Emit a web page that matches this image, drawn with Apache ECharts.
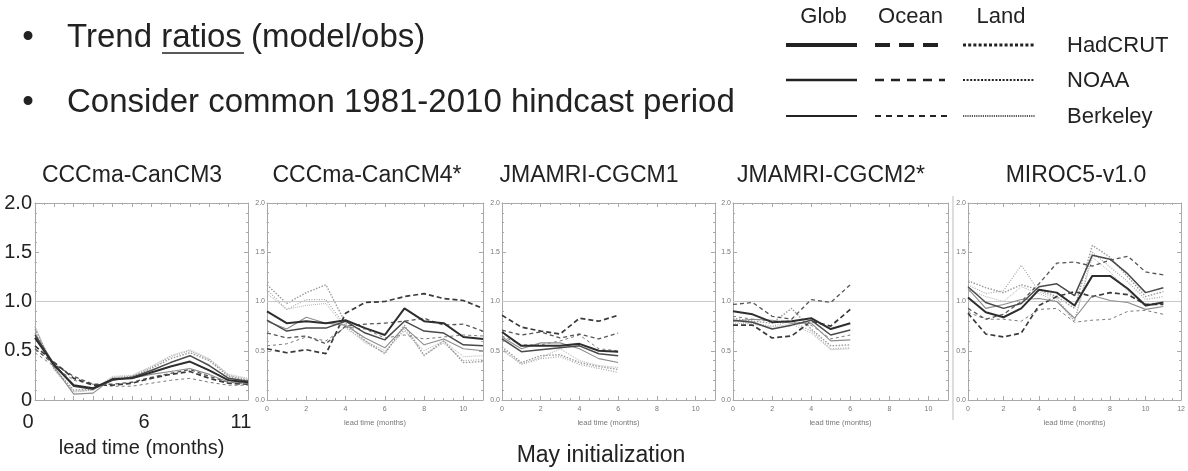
<!DOCTYPE html>
<html>
<head>
<meta charset="utf-8">
<script src="https://cdn.jsdelivr.net/npm/echarts@6/dist/echarts.min.js"></script>
<style>
  html, body { margin: 0; padding: 0; background: #fff; }
  #chart { width: 1188px; height: 471px; }
</style>
</head>
<body>
<div id="chart"></div>
<script>
// lead times (months) shared by all panels
const leadMonths = [0, 1, 2, 3, 4, 5, 6, 7, 8, 9, 10, 11];
const panelTitles = ['CCCma-CanCM3', 'CCCma-CanCM4*', 'JMAMRI-CGCM1', 'JMAMRI-CGCM2*', 'MIROC5-v1.0'];
const obsSets = ['HadCRUT', 'NOAA', 'Berkeley'];
const regions = ['Glob', 'Ocean', 'Land'];
const ratioTicks = [0, 0.5, 1.0, 1.5, 2.0];
const firstPanelXLabels = [0, 6, 11];

// trend ratios, rows: Glob (HadCRUT, NOAA, Berkeley), Ocean (...), Land (...)
const canCM3 = [
    [0.63, 0.35, 0.15, 0.12, 0.21, 0.22, 0.28, 0.34, 0.39, 0.30, 0.20, 0.18],
    [0.66, 0.36, 0.14, 0.11, 0.20, 0.23, 0.30, 0.38, 0.45, 0.35, 0.22, 0.19],
    [0.68, 0.33, 0.06, 0.07, 0.22, 0.22, 0.26, 0.29, 0.32, 0.26, 0.18, 0.17],
    [0.55, 0.38, 0.22, 0.15, 0.15, 0.17, 0.22, 0.26, 0.29, 0.22, 0.17, 0.16],
    [0.52, 0.36, 0.24, 0.16, 0.16, 0.18, 0.23, 0.27, 0.31, 0.24, 0.18, 0.17],
    [0.48, 0.34, 0.20, 0.16, 0.14, 0.14, 0.17, 0.20, 0.22, 0.18, 0.15, 0.15],
    [0.72, 0.32, 0.10, 0.11, 0.22, 0.24, 0.32, 0.42, 0.48, 0.40, 0.24, 0.20],
    [0.74, 0.31, 0.09, 0.10, 0.23, 0.24, 0.33, 0.44, 0.50, 0.41, 0.25, 0.21],
    [0.75, 0.30, 0.08, 0.10, 0.24, 0.25, 0.34, 0.45, 0.51, 0.42, 0.26, 0.22]
];
const canCM4 = [
    [0.90, 0.78, 0.80, 0.78, 0.81, 0.73, 0.66, 0.93, 0.80, 0.78, 0.64, 0.62],
    [0.81, 0.70, 0.73, 0.73, 0.80, 0.68, 0.61, 0.80, 0.70, 0.68, 0.56, 0.55],
    [0.80, 0.72, 0.84, 0.78, 0.76, 0.63, 0.53, 0.74, 0.56, 0.62, 0.52, 0.50],
    [0.52, 0.48, 0.51, 0.47, 0.88, 0.99, 1.00, 1.05, 1.08, 1.03, 1.01, 0.93],
    [0.68, 0.63, 0.65, 0.57, 0.75, 0.77, 0.78, 0.80, 0.83, 0.76, 0.77, 0.70],
    [0.55, 0.57, 0.64, 0.60, 0.74, 0.72, 0.63, 0.66, 0.62, 0.64, 0.66, 0.65],
    [1.17, 0.98, 1.09, 1.17, 0.78, 0.60, 0.47, 0.76, 0.45, 0.60, 0.38, 0.39],
    [1.12, 0.92, 1.02, 1.02, 0.75, 0.58, 0.48, 0.72, 0.46, 0.58, 0.40, 0.41],
    [1.08, 0.92, 0.96, 0.98, 0.73, 0.60, 0.50, 0.70, 0.50, 0.60, 0.44, 0.45]
];
const cgcm1 = [
    [0.69, 0.55, 0.55, 0.55, 0.57, 0.50, 0.49],
    [0.62, 0.49, 0.51, 0.53, 0.55, 0.47, 0.45],
    [0.64, 0.52, 0.58, 0.58, 0.52, 0.42, 0.38],
    [0.86, 0.74, 0.70, 0.67, 0.83, 0.80, 0.86],
    [0.71, 0.66, 0.69, 0.63, 0.67, 0.62, 0.68],
    [0.65, 0.56, 0.56, 0.60, 0.66, 0.52, 0.50],
    [0.54, 0.38, 0.45, 0.46, 0.38, 0.34, 0.31],
    [0.52, 0.36, 0.42, 0.44, 0.36, 0.32, 0.28],
    [0.50, 0.37, 0.43, 0.52, 0.40, 0.35, 0.33]
];
const cgcm2 = [
    [0.90, 0.87, 0.79, 0.80, 0.83, 0.72, 0.78],
    [0.81, 0.79, 0.72, 0.76, 0.81, 0.66, 0.71],
    [0.80, 0.82, 0.81, 0.78, 0.78, 0.60, 0.61],
    [0.76, 0.76, 0.63, 0.65, 0.80, 0.75, 0.92],
    [0.97, 0.99, 0.85, 0.82, 1.02, 0.99, 1.17],
    [0.85, 0.82, 0.80, 0.80, 0.76, 0.62, 0.66],
    [0.83, 0.80, 0.78, 0.93, 0.72, 0.55, 0.56],
    [0.80, 0.78, 0.75, 0.80, 0.70, 0.52, 0.53],
    [0.78, 0.77, 0.74, 0.77, 0.68, 0.51, 0.52]
];
const miroc5 = [
    [1.04, 0.89, 0.84, 0.93, 1.12, 1.09, 0.96, 1.26, 1.26, 1.13, 0.96, 0.99],
    [1.15, 0.99, 0.93, 0.98, 1.15, 1.18, 1.06, 1.47, 1.43, 1.28, 1.09, 1.14],
    [1.13, 0.93, 0.97, 1.02, 1.03, 1.00, 0.83, 1.06, 1.01, 0.99, 0.92, 0.95],
    [0.88, 0.67, 0.64, 0.68, 0.96, 1.05, 1.10, 1.05, 1.09, 1.07, 0.97, 0.97],
    [0.93, 0.82, 0.87, 1.00, 1.18, 1.39, 1.40, 1.36, 1.42, 1.46, 1.30, 1.27],
    [0.89, 0.82, 0.82, 0.80, 0.92, 0.93, 0.79, 0.81, 0.82, 0.90, 0.91, 0.87],
    [1.21, 1.14, 1.09, 1.17, 1.12, 1.05, 0.93, 1.57, 1.45, 1.25, 1.05, 1.10],
    [1.17, 1.08, 1.11, 1.37, 1.10, 1.03, 0.80, 1.50, 1.35, 1.20, 1.02, 1.05],
    [1.12, 1.05, 1.00, 1.15, 1.08, 1.00, 0.80, 1.45, 1.30, 1.10, 0.95, 1.00]
];
const panelData = [canCM3, canCM4, cgcm1, cgcm2, miroc5];

// line looks, same order as the rows
const lineLooks = [
    { color: '#2e2e2e', width: 2.0, type: 'solid' },
    { color: '#4a4a4a', width: 1.5, type: 'solid' },
    { color: '#8c8c8c', width: 1.1, type: 'solid' },
    { color: '#3a3a3a', width: 1.7, type: [5, 3] },
    { color: '#555555', width: 1.3, type: [4, 3] },
    { color: '#7a7a7a', width: 1.0, type: [3, 3] },
    { color: '#9a9a9a', width: 1.4, type: [1.5, 1.5] },
    { color: '#a8a8a8', width: 1.2, type: [1, 1.5] },
    { color: '#b4b4b4', width: 1.0, type: [1, 1] }
];

// plot boxes in the picture
const boxes = [
    { left: 35, width: 213, xMax: 11 },
    { left: 267, width: 216, xMax: 11 },
    { left: 502, width: 213, xMax: 11 },
    { left: 733, width: 215, xMax: 11 },
    { left: 968, width: 217, xMax: 12 }
];
const boxTop = 203, boxHeight = 197;
const titleCenters = [132, 367, 589, 831, 1076];

let grids = [], xAxes = [], yAxes = [], series = [];
const frame = '#a9a9a9';

boxes.forEach((b, p) => {
    grids.push({ left: b.left, top: boxTop, width: b.width, height: boxHeight });
    const big = p === 0;

    // bottom axis with labels
    xAxes.push({
        type: 'value', gridIndex: p, position: 'bottom', min: 0, max: b.xMax,
        interval: big ? 1 : 2,
        axisLine: { onZero: false, lineStyle: { color: frame } },
        axisTick: { inside: true, length: 4, lineStyle: { color: frame } },
        minorTick: { show: true, splitNumber: big ? 2 : 4, length: 2, lineStyle: { color: frame } },
        splitLine: { show: false },
        axisLabel: big ? {
            fontSize: 20, color: '#222', fontFamily: 'Liberation Sans', margin: 12,
            padding: [0, 14, 0, 0], showMaxLabel: true,
            formatter: v => firstPanelXLabels.indexOf(v) >= 0 ? String(v) : ''
        } : {
            fontSize: 7, color: '#777', fontFamily: 'Liberation Sans', margin: 6,
            showMaxLabel: b.xMax === 12 ? true : false
        },
        name: 'lead time (months)', nameLocation: 'middle',
        nameGap: big ? 38 : 19,
        nameTextStyle: big ? { fontSize: 20, color: '#222', fontFamily: 'Liberation Sans' }
                           : { fontSize: 7.5, color: '#777', fontFamily: 'Liberation Sans' }
    });
    // top axis, ticks only
    xAxes.push({
        type: 'value', gridIndex: p, position: 'top', min: 0, max: b.xMax,
        interval: big ? 1 : 2,
        axisLine: { onZero: false, lineStyle: { color: frame } },
        axisTick: { inside: true, length: 4, lineStyle: { color: frame } },
        minorTick: { show: true, splitNumber: big ? 2 : 4, length: 2, lineStyle: { color: frame } },
        splitLine: { show: false }, axisLabel: { show: false }
    });
    // left axis with labels
    yAxes.push({
        type: 'value', gridIndex: p, position: 'left', min: 0, max: 2, interval: 0.5,
        axisLine: { show: true, onZero: false, lineStyle: { color: frame } },
        axisTick: { show: true, inside: true, length: 4, lineStyle: { color: frame } },
        minorTick: { show: true, splitNumber: 5, length: 2, lineStyle: { color: frame } },
        splitLine: { show: false },
        axisLabel: big ? {
            fontSize: 20, color: '#222', fontFamily: 'Liberation Sans', margin: 3,
            formatter: v => v === 0 ? '0' : v.toFixed(1)
        } : {
            fontSize: 7, color: '#777', fontFamily: 'Liberation Sans', margin: 2,
            formatter: v => v.toFixed(1)
        }
    });
    // right axis, ticks only
    yAxes.push({
        type: 'value', gridIndex: p, position: 'right', min: 0, max: 2, interval: 0.5,
        axisLine: { show: true, onZero: false, lineStyle: { color: frame } },
        axisTick: { show: true, inside: true, length: 4, lineStyle: { color: frame } },
        minorTick: { show: true, splitNumber: 5, length: 2, lineStyle: { color: frame } },
        splitLine: { show: false }, axisLabel: { show: false }
    });

    panelData[p].forEach((row, r) => {
        const look = lineLooks[r];
        let s = {
            name: obsSets[r % 3] + ' ' + regions[Math.floor(r / 3)],
            type: 'line',
            xAxisIndex: p * 2, yAxisIndex: p * 2,
            data: row.map((v, i) => [leadMonths[i], v]),
            symbol: 'none', silent: true, animation: false,
            lineStyle: { color: look.color, width: look.width, type: look.type },
            z: 10 - r
        };
        if (r === 0) {
            s.markLine = {
                silent: true, symbol: 'none', animation: false,
                label: { show: false },
                lineStyle: { color: '#c8c8c8', width: 1, type: 'solid' },
                data: [{ yAxis: 1.0 }]
            };
        }
        series.push(s);
    });
});

// legend block (top right) drawn by hand
const legendCols = [{ x1: 786, x2: 857 }, { x1: 875, x2: 942 }, { x1: 963, x2: 1035 }];
const legendRowY = [45, 80, 116];
const legendWidths = [4, 2.6, 1.8];
const legendDash = [
    ['solid', [15, 9], [3, 2.2]],
    ['solid', [9, 7], [2, 1.6]],
    ['solid', [6, 5], [1.2, 1]]
];
let graphics = [];
const bigFont = '33px "Liberation Sans"';

graphics.push(
    { type: 'text', x: 28, y: 38, style: { text: '•', font: bigFont, fill: '#222', textAlign: 'center', textVerticalAlign: 'middle' } },
    { type: 'text', x: 67, y: 38, style: { text: 'Trend ratios (model/obs)', font: bigFont, fill: '#222', textVerticalAlign: 'middle' } },
    { type: 'line', shape: { x1: 162, y1: 53, x2: 244, y2: 53 }, style: { stroke: '#222', lineWidth: 1.6 } },
    { type: 'text', x: 28, y: 103, style: { text: '•', font: bigFont, fill: '#222', textAlign: 'center', textVerticalAlign: 'middle' } },
    { type: 'text', x: 67, y: 103, style: { text: 'Consider common 1981-2010 hindcast period', font: bigFont, fill: '#222', textVerticalAlign: 'middle' } }
);

regions.forEach((reg, c) => {
    graphics.push({ type: 'text', x: (legendCols[c].x1 + legendCols[c].x2) / 2 + 2, y: 17,
        style: { text: reg, font: '22px "Liberation Sans"', fill: '#222', textAlign: 'center', textVerticalAlign: 'middle' } });
});
obsSets.forEach((obs, r) => {
    legendCols.forEach((col, c) => {
        graphics.push({ type: 'line',
            shape: { x1: col.x1, y1: legendRowY[r], x2: col.x2 + (c === 1 ? r * 3 : 0), y2: legendRowY[r] },
            style: { stroke: '#222', lineWidth: c === 2 ? legendWidths[r] * 0.75 : legendWidths[r], lineDash: legendDash[r][c] } });
    });
    graphics.push({ type: 'text', x: 1067, y: legendRowY[r] + 1,
        style: { text: obs, font: '22px "Liberation Sans"', fill: '#222', textVerticalAlign: 'middle' } });
});

panelTitles.forEach((t, p) => {
    graphics.push({ type: 'text', x: titleCenters[p], y: 176,
        style: { text: t, font: '23px "Liberation Sans"', fill: '#222', textAlign: 'center', textVerticalAlign: 'middle' } });
});

graphics.push(
    { type: 'line', shape: { x1: 953, y1: 196, x2: 953, y2: 420 }, style: { stroke: '#bbbbbb', lineWidth: 1 } },
    { type: 'text', x: 601, y: 456, style: { text: 'May initialization', font: '23px "Liberation Sans"', fill: '#222', textAlign: 'center', textVerticalAlign: 'middle' } }
);

const chart = echarts.init(document.getElementById('chart'), null, { renderer: 'canvas' });
chart.setOption({
    backgroundColor: '#fff',
    animation: false,
    grid: grids,
    xAxis: xAxes,
    yAxis: yAxes,
    series: series,
    graphic: graphics
});
</script>
</body>
</html>
